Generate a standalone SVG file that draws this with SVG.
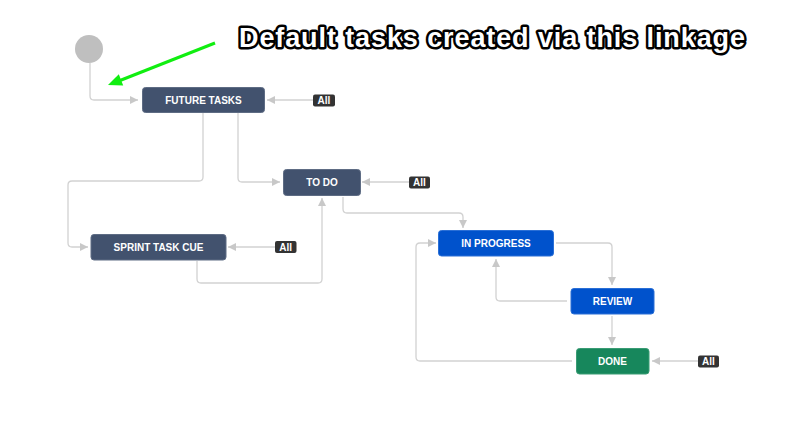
<svg xmlns="http://www.w3.org/2000/svg" width="789" height="445" viewBox="0 0 789 445">
<style>
.node rect{stroke-width:1}
.dark{fill:#42526e;stroke:#5e6c84}
.blue{fill:#0052cc;stroke:#2a6fd6}
.green{fill:#17875c;stroke:#3a9c74}
.lbl{font-family:"Liberation Sans",Arial,sans-serif;font-weight:bold;font-size:10px;fill:#ffffff;text-anchor:middle;dominant-baseline:central}
.badge rect{fill:#333333}
.badge text{font-family:"Liberation Sans",Arial,sans-serif;font-weight:bold;font-size:10px;fill:#ffffff;text-anchor:middle;dominant-baseline:central}
#connectors path{fill:none;stroke:#d2d2d2;stroke-width:1.3;marker-end:url(#ah)}
</style>
<defs>
<marker id="ah" viewBox="0 0 10 10" refX="10" refY="5" markerWidth="8" markerHeight="8" markerUnits="userSpaceOnUse" orient="auto">
<path d="M0,0 L10,5 L0,10 Z" fill="#c8c8c8"/>
</marker>
</defs>
<rect width="789" height="445" fill="#ffffff"/>
<g id="connectors">
<path d="M90,63 V96 Q90,100 94,100 H138"/>
<path d="M313,100 H267"/>
<path d="M203,113 V177 Q203,181 199,181 H72 Q68,181 68,185 V243 Q68,247 72,247 H88"/>
<path d="M238,113 V178 Q238,182 242,182 H280"/>
<path d="M409,182 H362"/>
<path d="M275,247 H228"/>
<path d="M197,261 V279 Q197,283 201,283 H318 Q322,283 322,279 V198"/>
<path d="M343,197 V209 Q343,213 347,213 H459 Q463,213 463,217 V228"/>
<path d="M556,243 H608 Q612,243 612,247 V285"/>
<path d="M567,301 H500 Q496,301 496,297 V259"/>
<path d="M612,316 V345"/>
<path d="M572,361 H420 Q416,361 416,357 V247 Q416,243 420,243 H436"/>
<path d="M698,361 H652"/>
</g>
<g id="start"><circle cx="89" cy="49" r="14" fill="#bfbfbf"/></g>
<g id="future-tasks" class="node"><rect class="dark" x="142.5" y="87.5" width="122" height="25" rx="3"/><text class="lbl" x="203.5" y="100">FUTURE TASKS</text></g>
<g id="to-do" class="node"><rect class="dark" x="283.5" y="169.5" width="77" height="26" rx="3"/><text class="lbl" x="322" y="182.5">TO DO</text></g>
<g id="sprint-task-cue" class="node"><rect class="dark" x="91" y="234.5" width="135" height="25.5" rx="3"/><text class="lbl" x="158.5" y="247">SPRINT TASK CUE</text></g>
<g id="in-progress" class="node"><rect class="blue" x="438.5" y="230.5" width="115" height="25.5" rx="3"/><text class="lbl" x="496" y="243">IN PROGRESS</text></g>
<g id="review" class="node"><rect class="blue" x="571" y="288.5" width="83" height="25.5" rx="3"/><text class="lbl" x="612.5" y="301">REVIEW</text></g>
<g id="done" class="node"><rect class="green" x="576.5" y="348.5" width="72.5" height="25.5" rx="3"/><text class="lbl" x="612.5" y="361">DONE</text></g>
<g id="all-future" class="badge"><rect x="313" y="94.5" width="22" height="12" rx="2"/><text x="324" y="100.5">All</text></g>
<g id="all-todo" class="badge"><rect x="409" y="176.5" width="21" height="12" rx="2"/><text x="419.5" y="182.5">All</text></g>
<g id="all-sprint" class="badge"><rect x="275" y="241" width="21.5" height="12" rx="2"/><text x="285.7" y="247">All</text></g>
<g id="all-done" class="badge"><rect x="698" y="355.5" width="21" height="12" rx="2"/><text x="708.5" y="361.5">All</text></g>
<g id="annotation">
<line x1="215" y1="43" x2="120" y2="80.5" stroke="#11ee11" stroke-width="3"/>
<polygon points="108,85 123.2,85.5 118.8,74.3" fill="#11ee11"/>
<text x="239" y="47" font-family="'Liberation Sans',Arial,sans-serif" font-weight="bold" font-size="27" fill="#ffffff" stroke="#000000" stroke-width="5" stroke-linejoin="round" paint-order="stroke" textLength="506">Default tasks created via this linkage</text>
</g>
</svg>
